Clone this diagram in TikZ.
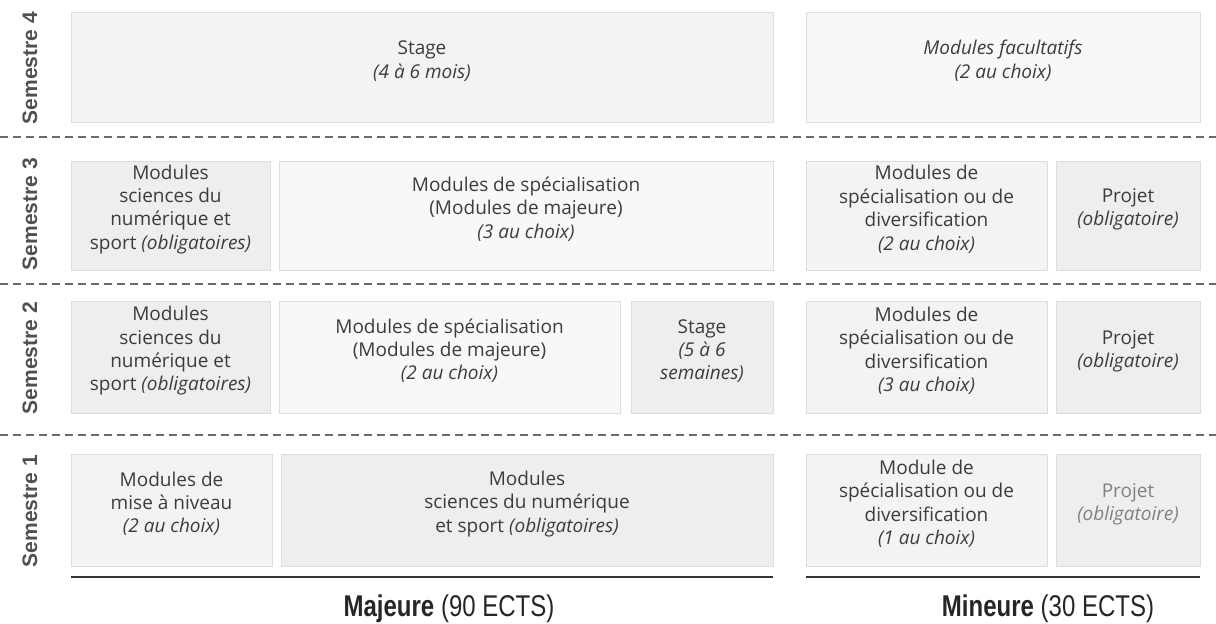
\documentclass[tikz,border=0pt]{standalone}
\usepackage{fontspec}
\setmainfont{Open Sans}
\newfontfamily\semfont{Liberation Sans}
\newfontfamily\ectsfont[FakeStretch=0.8]{Liberation Sans}
\usetikzlibrary{fit}
\definecolor{celllight}{HTML}{F8F8F8}
\definecolor{cellmid}{HTML}{F3F3F3}
\definecolor{celldark}{HTML}{EEEEEE}
\definecolor{cellline}{HTML}{DDDDDD}
\definecolor{celltext}{HTML}{3C3C3C}
\definecolor{semgray}{HTML}{505050}
\definecolor{rulegray}{HTML}{6A6A6A}
\begin{document}
\begin{tikzpicture}[x=0.5pt, y=-0.5pt,
	cell/.style = {draw=cellline, line width=0.5pt, inner sep=0pt, align=center,
		text=celltext, font=\fontsize{9.5}{11.7}\selectfont},
	light/.style = {cell, fill=celllight},
	mid/.style = {cell, fill=cellmid},
	dark/.style = {cell, fill=celldark},
	semlabel/.style = {rotate=90, text=semgray, font=\semfont\bfseries\fontsize{10.5}{12}\selectfont},
	ectslabel/.style = {anchor=base, text=black!85, font=\ectsfont\fontsize{15}{18}\selectfont},
	semrule/.style = {draw=rulegray, line width=1pt, dash pattern=on 4pt off 2.5pt},
	baserule/.style = {draw=black!80, line width=1.2pt}]
	
	\useasboundingbox (0,0) rectangle (1216,624);
	
	% semestre 4
	\node[mid, fit={(71,13) (773,123)}] (s4stage) {Stage\\\textit{(4 à 6 mois)}};
	\node[light, fit={(806,13) (1200,123)}] (s4opt) {\textit{Modules facultatifs}\\\textit{(2 au choix)}};
	
	% semestre 3
	\node[dark, fit={(71,162) (270,271)}] (s3sci) {Modules\\sciences du\\numérique et\\sport \textit{(obligatoires)}};
	\node[light, fit={(279,162) (773,271)}] (s3spec) {Modules de spécialisation\\(Modules de majeure)\\\textit{(3 au choix)}};
	\node[mid, fit={(806,162) (1047,271)}] (s3div) {Modules de\\spécialisation ou de\\diversification\\\textit{(2 au choix)}};
	\node[dark, fit={(1056,162) (1200,271)}] (s3proj) {Projet\\\textit{(obligatoire)}};
	
	% semestre 2
	\node[dark, fit={(71,302) (270,414)}] (s2sci) {Modules\\sciences du\\numérique et\\sport \textit{(obligatoires)}};
	\node[light, fit={(279,302) (620,414)}] (s2spec) {Modules de spécialisation\\(Modules de majeure)\\\textit{(2 au choix)}};
	\node[dark, fit={(631,302) (773,414)}] (s2stage) {Stage\\\textit{(5 à 6}\\\textit{semaines)}};
	\node[mid, fit={(806,302) (1047,414)}] (s2div) {Modules de\\spécialisation ou de\\diversification\\\textit{(3 au choix)}};
	\node[dark, fit={(1056,302) (1200,414)}] (s2proj) {Projet\\\textit{(obligatoire)}};
	
	% semestre 1
	\node[mid, fit={(71,455) (272,567)}] (s1niv) {Modules de\\mise à niveau\\\textit{(2 au choix)}};
	\node[dark, fit={(281,455) (773,567)}] (s1sci) {Modules\\sciences du numérique\\et sport \textit{(obligatoires)}};
	\node[mid, fit={(806,455) (1047,567)}] (s1div) {Module de\\spécialisation ou de\\diversification\\\textit{(1 au choix)}};
	\node[dark, text=black!50, fit={(1056,455) (1200,567)}] (s1proj) {Projet\\\textit{(obligatoire)}};
	
	% labels des semestres
	\node[semlabel] (sem4) at (30,68) {Semestre 4};
	\node[semlabel] (sem3) at (30,214) {Semestre 3};
	\node[semlabel] (sem2) at (30,358) {Semestre 2};
	\node[semlabel] (sem1) at (30,511) {Semestre 1};
	
	% separations
	\draw[semrule] (0,137) -- (1216,137);
	\draw[semrule] (0,284) -- (1216,284);
	\draw[semrule] (0,435) -- (1216,435);
	
	\draw[baserule] (71,577) -- (773,577);
	\draw[baserule] (806,577) -- (1200,577);
	
	\node[ectslabel] (maj) at (449,617) {\textbf{Majeure} (90 ECTS)};
	\node[ectslabel] (min) at (1048,617) {\textbf{Mineure} (30 ECTS)};
	\end{tikzpicture}
\end{document}
